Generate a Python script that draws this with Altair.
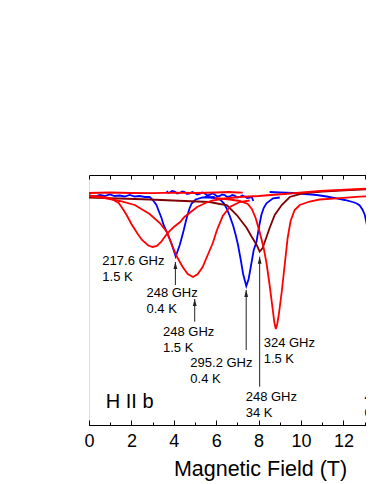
import altair as alt
import pandas as pd

FONT = "Liberation Sans"

# ---- traces: magnetic field (T) and transmittance (arb. units) ----
# red, 217.6 GHz 1.5 K
A_T = [0, 0.5, 1.0, 1.4, 1.6, 1.8, 2.0, 2.3, 2.5, 2.8, 3.0, 3.2, 3.4, 3.6, 3.8, 4.0, 4.3, 4.5, 4.8, 5.1, 5.5, 5.8, 6.4, 7.1, 8.0, 9.5, 10.9, 12.3, 13.5]
A_Y = [229, 228.5, 227, 222, 216, 209, 201, 191, 185, 179.5, 178, 179, 183, 189, 194, 198, 203, 208, 213, 218, 222, 224.5, 226.5, 228, 229, 231.5, 234, 235.5, 236.7]
# red, 248 GHz 1.5 K
B_T = [0, 0.74, 1.45, 2.16, 2.86, 3.34, 3.67, 3.95, 4.18, 4.42, 4.66, 4.91, 5.13, 5.36, 5.60, 5.84, 6.02, 6.31, 6.64, 7.11, 7.58]
B_Y = [229, 227, 224, 220, 211, 202, 193, 178, 167, 158, 151, 148, 151, 158, 170, 182, 194, 209, 218, 223, 224.5]
# red, 324 GHz 1.5 K
D_T = [5.93, 6.64, 7.11, 7.49, 7.68, 7.86, 8.05, 8.24, 8.38, 8.52, 8.67, 8.74, 8.81, 8.88, 8.95, 9.09, 9.23, 9.37, 9.51, 9.70, 9.94, 10.41, 10.88, 11.68, 12.77, 13.43]
D_Y = [227, 225.5, 224, 221, 216, 207, 193, 177, 161, 140, 115, 103, 96, 101, 110, 133, 160, 187, 204, 215, 220, 223.5, 225.5, 226.7, 228.3, 229]
# red, upper baseline segment
R_T = [0, 1, 2, 3, 4, 5, 6, 6.6, 7.0, 7.25]
R_Y = [232, 232.5, 232, 231.8, 232.3, 232, 232.5, 233, 232.5, 232.3]
# dark red, 248 GHz 34 K
H_T = [0, 1.45, 2.86, 4.51, 5.69, 6.17, 6.50, 6.97, 7.44, 7.68, 7.91, 8.05, 8.19, 8.29, 8.52, 8.76, 9.09, 9.47, 10.08, 11.02, 12.30, 13.43]
H_Y = [227.3, 226.5, 225.5, 224, 223, 221, 220, 210, 197, 188, 180, 173.5, 177, 183, 197, 210, 220, 228, 231.7, 233.3, 235, 236]
# blue, 248 GHz 0.4 K
E_T = [0, 0.27, 0.51, 0.74, 0.98, 1.21, 1.45, 1.68, 1.92, 2.16, 2.39, 2.63, 2.86, 3.01, 3.18, 3.29, 3.42, 3.52, 3.65, 3.73, 3.89, 3.96, 4.09, 4.18, 4.28, 4.37, 4.47, 4.56, 4.66, 4.75, 4.84, 5.03, 5.36, 5.93]
E_Y = [230, 228.5, 230, 229, 230.5, 229, 229.5, 228.5, 230, 228.5, 229, 228, 228, 225, 220, 214, 207, 200, 194, 190, 181.5, 177, 168.5, 174, 180, 187, 195, 203, 211, 217, 221.5, 225.5, 227.5, 228]
# blue, 295.2 GHz 0.4 K
C_T = [5.46, 5.93, 6.21, 6.35, 6.48, 6.64, 6.79, 6.92, 7.03, 7.16, 7.27, 7.42, 7.53, 7.63, 7.77, 7.90, 8.01, 8.13, 8.24, 8.37, 8.68, 9.00]
C_Y = [228, 227, 225, 222, 217, 209, 200, 190, 180, 165, 151, 139, 146, 158, 175, 183.3, 197, 210, 217, 221.7, 226.7, 227.5]
# blue, noisy upper segment
F_T = [3.67, 3.74, 3.81, 3.92, 4.04, 4.16, 4.28, 4.40, 4.51, 4.63, 4.75, 4.87, 4.99, 5.10, 5.22, 5.34, 5.46, 5.58, 5.69, 5.81, 5.93, 6.05, 6.17, 6.28, 6.40, 6.52, 6.64, 6.76, 6.87, 6.99, 7.11, 7.23, 7.34, 7.46, 7.58, 7.68, 7.75]
F_Y = [234, 232, 232.5, 234, 233.5, 231.5, 232, 233.5, 233, 231, 231.5, 233, 232, 230.5, 231, 232.5, 231.5, 229.5, 230, 231.5, 230.5, 228.5, 229, 230.5, 230, 228, 228.5, 230, 229.5, 227.5, 228, 229.5, 228.5, 227, 227.5, 228, 224]
# blue, high-field trace
G_T = [8.52, 9.00, 9.61, 10.18, 10.74, 11.21, 11.68, 12.06, 12.44, 12.63, 12.77, 12.91, 13.01, 13.10, 13.17, 13.24, 13.32, 13.38, 13.48]
G_Y = [233, 232.5, 232, 231, 230, 228.5, 226.7, 225, 223, 221.5, 219.5, 215, 210, 201, 192, 182, 170, 160, 145]

# ---- annotations ----
LABELS = ["217.6 GHz\n1.5 K", "248 GHz\n0.4 K", "248 GHz\n1.5 K", "295.2 GHz\n0.4 K",
          "324 GHz\n1.5 K", "248 GHz\n34 K", "440 GHz\n0.4 K"]
LABEL_T = [0.63, 2.71, 3.49, 4.78, 8.24, 7.39, 12.99]
LABEL_Y = [160, 128, 89.3, 58.3, 78.3, 24.3, 24.3]

ARROW_T = [4.075, 4.986, 7.415, 8.05]
ARROW_FROM = [140, 103.3, 75, 38.3]
ARROW_TO = [163, 126, 135, 168.3]

PANEL_TEXT = ["H II b"]
PANEL_T = [0.79]
PANEL_Y = [17]

X_TICKS = list(range(0, 14))
X_MAJOR = [0, 2, 4, 6, 8, 10, 12]
Y_TICKS = [17.5, 53, 89, 124, 160, 195.5, 231]

traces = [
    ("E", "blue", E_T, E_Y), ("C", "blue", C_T, C_Y), ("F", "blue", F_T, F_Y), ("G", "blue", G_T, G_Y),
    ("H", "brown", H_T, H_Y),
    ("R", "red", R_T, R_Y), ("A", "red", A_T, A_Y), ("B", "red", B_T, B_Y), ("D", "red", D_T, D_Y),
]
rows = []
for name, grp, ts, ys in traces:
    for i, (t, y) in enumerate(zip(ts, ys)):
        rows.append({"trace": name, "grp": grp, "T": t, "y": y, "i": i})
df = pd.DataFrame(rows)

lab_df = pd.DataFrame({"label": LABELS, "T": LABEL_T, "y": LABEL_Y})
arr_df = pd.DataFrame({"T": ARROW_T, "y0": ARROW_FROM, "y1": ARROW_TO})
pan_df = pd.DataFrame({"label": PANEL_TEXT, "T": PANEL_T, "y": PANEL_Y})

# plot area: 277 px wide at 21.2 px per tesla
xs = alt.Scale(domain=[0, 13.066], nice=False, zero=False)
ys = alt.Scale(domain=[0, 250], nice=False, zero=False)

COLORS = {"blue": "#0000ff", "brown": "#7f0000", "red": "#ff0000"}

x_main = alt.Axis(orient="bottom", values=X_TICKS,
                  labelExpr="datum.value % 2 === 0 ? datum.label : ''",
                  tickSize=alt.ExprRef(expr="-3"), labelPadding=10,
                  labelFontSize=18, labelFont=FONT, labelColor="black",
                  labelFlush=False, labelOverlap=False,
                  domainColor="black", tickColor="black", grid=False,
                  title="Magnetic Field (T)", titleFontSize=21.5, titleFont=FONT,
                  titleFontWeight="normal", titleColor="black",
                  titleX=171, titleY=50, titleAlign="center", titleBaseline="alphabetic")
x_major = alt.Axis(orient="bottom", values=X_MAJOR, labels=False, domain=False,
                   tickSize=alt.ExprRef(expr="-5"), tickColor="black", grid=False, title=None)
y_main = alt.Axis(orient="left", values=Y_TICKS, labels=False,
                  tickSize=alt.ExprRef(expr="-5"), domainColor="black", tickColor="black",
                  grid=False, title="Transmittance (arb. units)", titleFontSize=21.5,
                  titleFont=FONT, titleFontWeight="normal", titleColor="black",
                  titleX=-11.7, titleY=122.5, titleAngle=270, titleAlign="center",
                  titleBaseline="alphabetic")
x_top = alt.Axis(orient="top", values=X_TICKS, labels=False,
                 tickSize=alt.ExprRef(expr="-4"), domainColor="black", tickColor="black",
                 grid=False, title=None)


def line_layer(grp, xaxis=None, yaxis=None):
    return alt.Chart(df[df.grp == grp]).mark_line(
        strokeWidth=1.8, clip=True, color=COLORS[grp]
    ).encode(
        x=alt.X("T:Q", scale=xs, axis=xaxis),
        y=alt.Y("y:Q", scale=ys, axis=yaxis),
        detail="trace:N",
        order="i:Q",
    )


blue = line_layer("blue", x_main, y_main)
brown = line_layer("brown")
red = line_layer("red")

rules = alt.Chart(arr_df).mark_rule(color="#222222", strokeWidth=1).encode(
    x=alt.X("T:Q", scale=xs, axis=None),
    y=alt.Y("y0:Q", scale=ys, axis=None),
    y2="y1:Q",
)
heads = alt.Chart(arr_df).mark_point(
    shape="M0,-1L-0.55,1L0.55,1Z", filled=True, size=49, yOffset=3.5,
    color="#222222", opacity=1, strokeWidth=0
).encode(
    x=alt.X("T:Q", scale=xs, axis=None),
    y=alt.Y("y1:Q", scale=ys, axis=None),
)
texts = alt.Chart(lab_df).mark_text(
    align="left", baseline="alphabetic", fontSize=13, font=FONT,
    lineBreak="\n", lineHeight=16, color="black"
).encode(
    x=alt.X("T:Q", scale=xs, axis=x_top),
    y=alt.Y("y:Q", scale=ys, axis=None),
    text="label:N",
)
panel = alt.Chart(pan_df).mark_text(
    align="left", baseline="alphabetic", fontSize=20, font=FONT, color="black"
).encode(
    x=alt.X("T:Q", scale=xs, axis=x_major),
    y=alt.Y("y:Q", scale=ys, axis=None),
    text="label:N",
)

chart = alt.layer(blue, brown, red, rules, heads, texts, panel).resolve_axis(
    x="independent"
).properties(
    width=277, height=250,
    padding={"left": 81, "top": 167, "right": 0, "bottom": 57},
    autosize=alt.AutoSizeParams(type="none"),
).configure_view(stroke=None).configure(background="white")

chart.save("out.html", embed_options={"renderer": "svg", "actions": False})
